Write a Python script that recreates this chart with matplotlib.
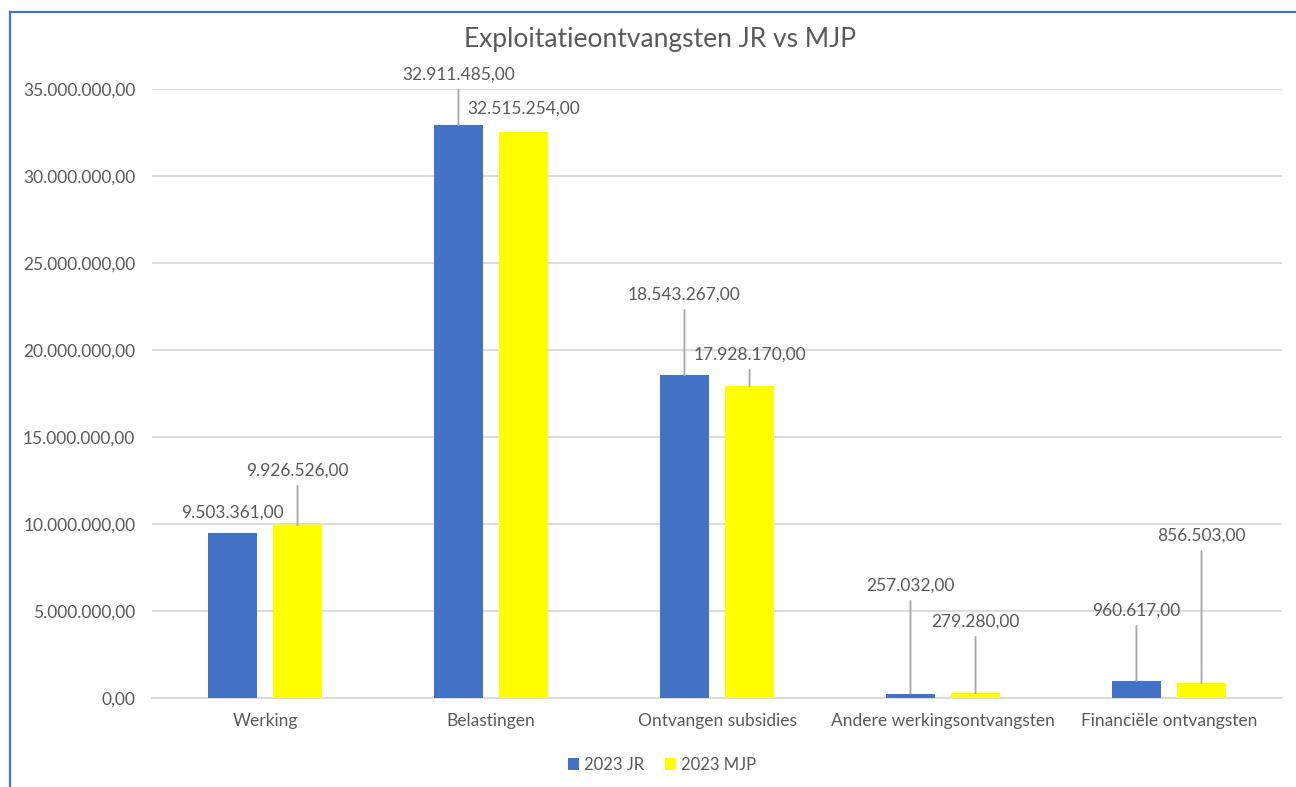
import numpy as np
import matplotlib
matplotlib.use("Agg")
import matplotlib.pyplot as plt
from matplotlib.lines import Line2D

plt.rcParams['font.family'] = ['Lato', 'DejaVu Sans']

categories = ['Werking', 'Belastingen', 'Ontvangen subsidies',
              'Andere werkingsontvangsten', 'Financiële ontvangsten']
jr_2023 = [9503361.00, 32911485.00, 18543267.00, 257032.00, 960617.00]
mjp_2023 = [9926526.00, 32515254.00, 17928170.00, 279280.00, 856503.00]
series_names = ['2023 JR', '2023 MJP']

# label placement (data-y of label centre) and whether a leader line is drawn
jr_label_y = [10.63e6, 35.8e6, 23.16e6, 6.44e6, 5.0e6]
mjp_label_y = [13.05e6, 33.85e6, 19.71e6, 4.37e6, 9.31e6]
jr_leader = [False, True, True, True, True]
mjp_leader = [True, False, True, True, True]

blue = '#4472C4'
yellow = '#FFFF00'
txt = '#595959'
grid_c = '#d9d9d9'


def nl(v):
    s = f"{v:,.2f}"
    return s.replace(',', 'X').replace('.', ',').replace('X', '.')


fig = plt.figure(figsize=(12.96, 7.87), dpi=100)
ax = fig.add_axes([152 / 1296, 1 - 698 / 787, 1130 / 1296, 609 / 787])

x = np.arange(len(categories))
w = 0.22
off = 0.144
ax.bar(x - off, jr_2023, w, color=blue, label=series_names[0], zorder=3)
ax.bar(x + off, mjp_2023, w, color=yellow, label=series_names[1], zorder=3)

ax.set_xlim(-0.5, len(categories) - 0.5)
ax.set_ylim(0, 35e6)
ax.set_yticks(np.arange(0, 35e6 + 1, 5e6))
ax.set_yticklabels([nl(v) for v in ax.get_yticks()])
ax.set_xticks(x)
ax.set_xticklabels(categories)
ax.tick_params(axis='both', length=0, colors=txt, labelsize=12.5)
ax.tick_params(axis='y', pad=12)
ax.tick_params(axis='x', pad=11)
ax.grid(axis='y', color=grid_c, lw=1.3, zorder=0)
for s in ['top', 'right', 'left']:
    ax.spines[s].set_visible(False)
ax.spines['bottom'].set_color(grid_c)
ax.spines['bottom'].set_linewidth(1.3)
ax.spines['bottom'].set_zorder(1)


def label(xs, vals, ys, leaders):
    for xi, v, ly, ld in zip(xs, vals, ys, leaders):
        ap = dict(arrowstyle='-', color='#a6a6a6', lw=1.3, shrinkA=3, shrinkB=0) if ld else None
        ax.annotate(nl(v), xy=(xi, v), xytext=(xi, ly), textcoords='data',
                    ha='center', va='center', fontsize=12.5, color=txt,
                    arrowprops=ap, zorder=5)


label(x - off, jr_2023, jr_label_y, jr_leader)
label(x + off, mjp_2023, mjp_label_y, mjp_leader)

fig.text(660 / 1296, 1 - 40 / 787, 'Exploitatieontvangsten JR vs MJP',
         ha='center', va='center', fontsize=19, color=txt)

fig.legend(loc='center', bbox_to_anchor=(662 / 1296, 1 - 765 / 787), ncol=2,
           frameon=False, fontsize=12, labelcolor=txt, handlelength=0.7,
           handleheight=0.7, handletextpad=0.3, columnspacing=1.2)

# chart frame (top and left edges visible)
fig.add_artist(Line2D([10 / 1296, 10 / 1296], [0, 1 - 12 / 787], color=blue, lw=1.6,
                      transform=fig.transFigure))
fig.add_artist(Line2D([10 / 1296, 1], [1 - 12 / 787, 1 - 12 / 787], color=blue, lw=1.6,
                      transform=fig.transFigure))

fig.savefig('out.png', dpi=100)
